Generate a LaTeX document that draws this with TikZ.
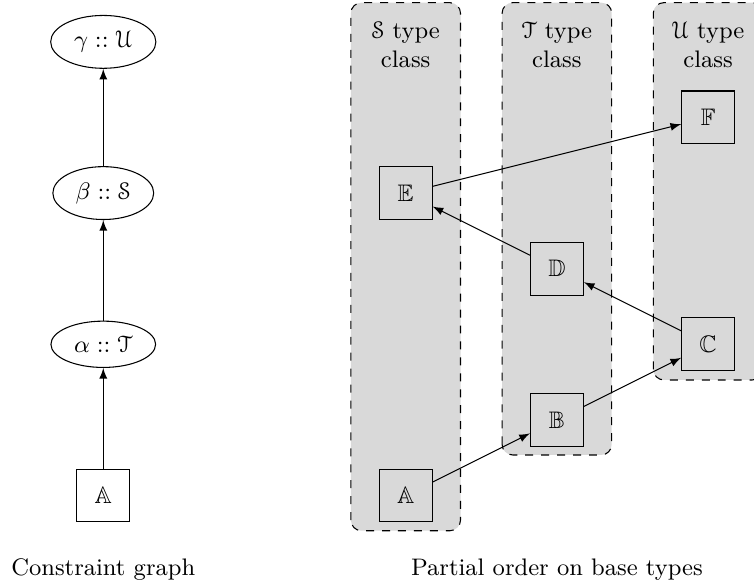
\documentclass[tikz,border=0pt]{standalone}
\usepackage{amsmath}
\usepackage{amssymb}
\usepackage{eucal}
\usetikzlibrary{shapes.geometric}

\tikzset{
	basebox/.style={draw, minimum size=0.7cm, inner sep=0pt},
	constr/.style={draw, ellipse, inner sep=3pt},
	tclass/.style={draw, dashed, fill=gray!30, rounded corners=4pt},
	order/.style={-latex}
}

\begin{document}
\begin{tikzpicture}[font=\small]
		%%%%% START %%%%%
		\useasboundingbox (-1.366, -1.210) rectangle (8.607, 6.554);
		
		% type classes
		\draw[tclass] (3.275, -0.466) rectangle (4.725, 6.519);
		\draw[tclass] (5.275, 0.536) rectangle (6.725, 6.519);
		\draw[tclass] (7.275, 1.528) rectangle (8.725, 6.519);
		\node[align=center] (sname) at (4, 5.96) {$\mathcal{S}$ type\\class};
		\node[align=center] (tname) at (6, 5.96) {$\mathcal{T}$ type\\class};
		\node[align=center] (uname) at (8, 5.96) {$\mathcal{U}$ type\\class};
		
		% constraint graph
		\node[basebox] (a0) at (0, 0) {$\mathbb{A}$};
		\node[constr] (alp) at (0, 2) {$\alpha :: \mathcal{T}$};
		\node[constr] (bet) at (0, 4) {$\beta :: \mathcal{S}$};
		\node[constr] (gam) at (0, 6) {$\gamma :: \mathcal{U}$};
		\draw[order] (a0) -- (alp);
		\draw[order] (alp) -- (bet);
		\draw[order] (bet) -- (gam);
		
		% base types
		\node[basebox] (ta) at (4, 0) {$\mathbb{A}$};
		\node[basebox] (tb) at (6, 1) {$\mathbb{B}$};
		\node[basebox] (tc) at (8, 2) {$\mathbb{C}$};
		\node[basebox] (td) at (6, 3) {$\mathbb{D}$};
		\node[basebox] (te) at (4, 4) {$\mathbb{E}$};
		\node[basebox] (tf) at (8, 5) {$\mathbb{F}$};
		\draw[order] (ta) -- (tb);
		\draw[order] (tb) -- (tc);
		\draw[order] (tc) -- (td);
		\draw[order] (td) -- (te);
		\draw[order] (te) -- (tf);
		
		\node (lgraph) at (0, -0.985) {Constraint graph};
		\node (lorder) at (6, -0.985) {Partial order on base types};
		
		%%%%% END %%%%%
\end{tikzpicture}
\end{document}
